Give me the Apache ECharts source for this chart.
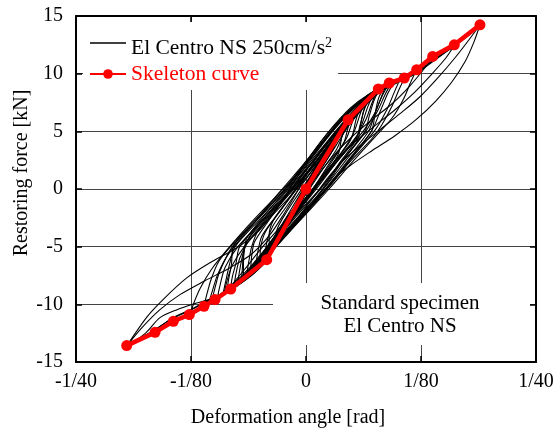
<!DOCTYPE html>
<html><head><meta charset="utf-8">
<script src="https://cdn.jsdelivr.net/npm/echarts@6/dist/echarts.min.js"></script>
<style>html,body{margin:0;padding:0;background:#fff}#c{width:555px;height:430px}</style>
</head><body><div id="c"></div>
<script>
// x values in 1/1000 rad (mrad), y values in kN
const xTickValues = [-25, -12.5, 0, 12.5, 25];
const xTickLabels = ['-1/40', '-1/80', '0', '1/80', '1/40'];
const yTickValues = [-15, -10, -5, 0, 5, 10, 15];

const blackName = 'El Centro NS 250cm/s2';
const redName = 'Skeleton curve';

// skeleton curve
const skeletonX = [-19.49, -16.41, -14.42, -12.68, -11.09, -9.89, -8.18, -4.27, 0, 4.57, 7.86, 9.05, 10.68, 12.03, 13.77, 16.12, 18.91];
const skeletonY = [-13.58, -12.43, -11.47, -10.89, -10.17, -9.59, -8.67, -6.13, 0, 6.0, 8.67, 9.19, 9.62, 10.34, 11.49, 12.5, 14.24];

// response loops (El Centro NS 250cm/s2)
const cycleA = [[-4.78,-6.30],[-2.83,-4.05],[-1.52,-1.97],[-0.65,-0.58],[0.43,0.98],[1.74,2.71],[3.26,4.45],[4.78,6.18],[6.41,7.74],[8.04,8.78],[9.67,9.38],[11.30,9.90],[12.93,10.68],[14.57,11.55],[16.20,12.42],[17.61,13.28],[18.91,14.24],
  [18.26,12.76],[17.28,11.03],[15.87,9.30],[14.13,7.65],[11.96,6.01],[9.67,4.62],[7.17,3.32],[4.78,2.02],[3.15,0.98],[2.07,-0.06],[0.65,-1.36],[-0.87,-2.83],[-2.83,-4.56],[-4.78,-6.13]];
const cycleB = [[-3.70,-5.26],[-2.28,-3.53],[-1.09,-1.97],[0,-0.41],[1.30,1.33],[2.83,3.23],[4.35,5.14],[5.87,6.87],[7.61,8.43],[9.35,9.12],[11.30,9.73],[13.48,10.94],[15.87,12.33],[17.83,13.46],[18.91,14.24],
  [17.72,12.94],[16.20,11.38],[14.35,9.65],[12.39,8.00],[10.22,6.53],[8.04,5.14],[5.87,3.75],[3.91,2.37],[2.39,0.98],[1.09,-0.41],[-0.22,-1.79],[-1.74,-3.35],[-3.70,-5.26]];
const cycleC = [[-3.91,-5.69],[-2.39,-3.70],[-1.09,-1.79],[0.22,0.11],[1.52,2.02],[3.04,3.92],[4.67,5.83],[6.52,7.56],[8.48,8.78],[10.43,9.47],[12.39,10.25],[14.35,11.38],[16.09,12.42],
  [15.22,11.38],[13.70,9.99],[11.85,8.43],[9.67,6.87],[7.50,5.49],[5.33,4.10],[3.48,2.71],[2.07,1.41],[0.65,-0.06],[-0.65,-1.36],[-2.28,-3.0],[-4.13,-4.84]];
const cycleD = [[-3.2,-4.9],[-2.0,-3.0],[-0.8,-1.0],[0.5,1.0],[1.9,3.0],[3.5,4.9],[5.3,6.6],[7.3,8.1],[9.4,9.0],[11.6,9.9],[13.77,11.49],
  [12.93,10.51],[11.30,8.95],[9.35,7.39],[7.17,6.01],[5.0,4.53],[3.26,3.14],[1.74,1.67],[0.43,0.29],[-0.87,-1.19],[-2.39,-2.83],[-3.8,-4.6]];
const cycleE = [[0.65,0.81],[-0.65,-0.93],[-1.96,-2.83],[-3.26,-4.65],[-4.35,-6.30],[-5.87,-7.42],[-7.61,-8.46],[-9.35,-9.24],[-10.98,-9.84],[-12.61,-10.54],[-14.57,-11.24],[-16.41,-12.19],[-18.04,-12.97],[-19.46,-13.58],
  [-17.28,-11.09],[-15.54,-9.59],[-12.93,-7.69],[-10.43,-6.39],[-7.50,-5.09],[-5.33,-3.79],[-3.70,-2.23],[-2.39,-0.75],[-1.30,0.63],[0,2.28],[1.52,4.01],[3.26,5.66],[5.0,7.04],[6.96,8.26]];
const cycleF = [[1.0,1.2],[-0.3,-0.6],[-1.6,-2.5],[-2.9,-4.4],[-4.1,-6.0],[-5.6,-7.3],[-7.3,-8.3],[-9.0,-9.1],[-10.8,-9.7],[-12.4,-10.4],[-14.3,-11.1],[-16.2,-12.1],[-17.9,-12.9],[-19.46,-13.58],
  [-17.5,-12.54],[-15.87,-11.15],[-14.02,-10.46],[-12.07,-9.93],[-10.22,-9.50],[-8.48,-8.90],[-6.85,-7.86],[-5.43,-6.56],[-4.13,-5.0],[-2.83,-3.35],[-1.52,-1.62],[-0.22,0.11],[1.09,1.93],[2.61,3.75],[4.35,5.49]];
const cycleG = [[-19.46,-13.58],[-17.83,-12.02],[-15.87,-10.46],[-13.70,-9.16],[-10.98,-7.95],[-8.26,-6.82],[-5.87,-5.61],[-3.91,-3.96],[-2.39,-2.14],[-1.09,-0.41],[0.22,1.50],[1.74,3.40],[3.48,5.14],[5.2,6.7]];
const loop1 = [[-10.2,-9.6],[-9.9,-8.6],[-9.4,-7.2],[-8.0,-5.0],[-5.1,-2.5],[-2.2,0],[0.3,2.5],[2.8,5.0],[5.2,7.0],[7.4,8.4],[9.6,9.3],
  [8.9,8.3],[8.1,6.8],[7.1,5.0],[4.6,2.5],[2.1,0],[-0.8,-2.5],[-3.7,-5.0],[-5.7,-6.8],[-7.8,-8.3],[-10.2,-9.6]];
const loop2 = [[-9.0,-9.0],[-8.7,-7.9],[-8.3,-6.5],[-7.7,-5.0],[-4.85,-2.5],[-2.0,0],[0.45,2.5],[2.9,5.0],[5.2,7.0],[7.2,8.3],[9.0,9.1],
  [8.3,8.1],[7.6,6.8],[6.8,5.0],[4.35,2.5],[1.9,0],[-0.95,-2.5],[-3.8,-5.0],[-5.6,-6.6],[-7.4,-8.0],[-9.0,-9.0]];
const loop3 = [[-8.2,-8.6],[-8.0,-7.6],[-7.6,-6.4],[-7.2,-5.0],[-4.5,-2.5],[-1.7,0],[0.8,2.5],[3.2,5.0],[5.3,6.9],[6.8,8.0],[8.0,8.6],
  [7.4,7.7],[6.9,6.4],[6.4,5.0],[4.0,2.5],[1.6,0],[-1.2,-2.5],[-3.9,-5.0],[-5.5,-6.5],[-6.9,-7.8],[-8.2,-8.6]];
const loop4 = [[-7.4,-8.0],[-7.2,-7.0],[-6.9,-5.8],[-6.4,-4.5],[-4.0,-2.2],[-1.5,0],[0.9,2.2],[3.4,4.5],[5.3,6.3],[7.2,8.0],
  [6.7,7.1],[6.2,5.9],[5.5,4.5],[3.2,2.2],[1.4,0.3],[-0.9,-2.0],[-3.4,-4.5],[-5.2,-6.2],[-7.4,-8.0]];
const loop5 = [[-6.4,-7.2],[-6.2,-6.2],[-5.9,-5.0],[-5.2,-3.6],[-3.3,-1.8],[-1.2,0.1],[0.9,2.0],[3.0,3.9],[4.7,5.7],[6.2,7.2],
  [5.8,6.3],[5.3,5.1],[4.6,3.9],[2.7,2.0],[0.9,0.1],[-1.1,-1.8],[-2.9,-3.6],[-4.6,-5.4],[-6.4,-7.2]];
const loop6 = [[-5.4,-6.3],[-5.2,-5.3],[-4.8,-4.1],[-3.4,-2.5],[-1.3,-0.3],[0.6,1.8],[2.6,3.8],[4.0,5.3],[5.3,6.4],
  [4.9,5.5],[4.4,4.4],[3.0,2.6],[1.1,0.4],[-0.8,-1.7],[-2.6,-3.6],[-4.0,-5.1],[-5.4,-6.3]];
const loop7 = [[-4.4,-5.4],[-4.2,-4.4],[-3.6,-3.2],[-2.2,-1.6],[-0.5,0.3],[1.2,2.2],[2.8,4.0],[4.3,5.4],
  [3.9,4.5],[3.3,3.4],[1.8,1.7],[0.2,-0.2],[-1.5,-2.1],[-3.0,-3.9],[-4.4,-5.4]];
const loop8 = [[-3.4,-4.4],[-3.1,-3.4],[-2.2,-2.1],[-0.8,-0.4],[0.7,1.4],[2.1,3.1],[3.3,4.3],
  [2.9,3.4],[2.0,2.2],[0.6,0.6],[-0.9,-1.2],[-2.4,-3.0],[-3.4,-4.4]];
const loop9 = [[-11.1,-10.2],[-10.8,-9.2],[-10.3,-7.8],[-9.5,-6.3],[-8.2,-5.0],[-5.3,-2.5],[-2.3,0],[0.3,2.5],[2.7,5.0],[5.0,7.0],[7.4,8.5],[9.0,9.1],[10.7,9.6],
  [10.1,8.6],[9.3,7.1],[8.2,5.5],[7.2,4.4],[4.6,2.2],[2.3,0],[-0.7,-2.5],[-3.6,-5.0],[-5.9,-7.0],[-8.2,-8.6],[-9.8,-9.5],[-11.1,-10.2]];
const loop10 = [[-12.6,-10.9],[-12.2,-9.9],[-11.5,-8.6],[-10.3,-7.0],[-8.5,-5.2],[-5.6,-2.6],[-2.6,-0.1],[0.2,2.4],[2.6,4.8],[4.8,6.8],[7.2,8.4],[9.6,9.4],[12.0,10.3],
  [11.4,9.3],[10.6,7.8],[9.4,6.2],[7.6,4.6],[5.0,2.3],[2.5,0],[-0.5,-2.6],[-3.5,-5.1],[-6.2,-7.3],[-9.0,-9.0],[-11.0,-10.1],[-12.6,-10.9]];
const loop11 = [[-9.6,-9.3],[-9.3,-8.2],[-8.8,-6.8],[-7.4,-5.0],[-4.5,-2.5],[-1.6,0],[0.9,2.5],[3.3,5.0],[5.6,7.0],[7.6,8.5],[9.3,9.2],
  [8.6,8.2],[7.8,6.8],[6.5,5.0],[4.0,2.5],[1.5,0],[-1.4,-2.5],[-4.2,-5.0],[-6.1,-6.8],[-8.0,-8.3],[-9.6,-9.3]];
const loop12 = [[-8.6,-8.8],[-8.4,-7.8],[-8.1,-6.5],[-7.9,-5.0],[-5.1,-2.5],[-2.3,0],[0.1,2.5],[2.5,5.0],[4.8,7.0],[6.8,8.2],[8.5,8.8],
  [7.9,7.9],[7.5,6.5],[7.1,5.0],[4.7,2.5],[2.2,0],[-0.6,-2.5],[-3.5,-5.0],[-5.3,-6.6],[-7.0,-7.9],[-8.6,-8.8]];
const loop13 = [[-7.0,-7.7],[-6.9,-6.7],[-6.8,-5.6],[-6.2,-4.2],[-4.1,-2.1],[-1.9,0],[0.4,2.1],[2.6,4.2],[4.7,6.2],[6.8,7.8],
  [6.3,6.8],[5.9,5.6],[5.4,4.2],[3.5,2.1],[1.8,0],[-0.4,-2.1],[-2.6,-4.2],[-4.8,-6.2],[-7.0,-7.7]];
const loop14 = [[-6.0,-6.8],[-5.9,-5.8],[-5.6,-4.6],[-4.2,-2.9],[-2.3,-0.8],[-0.4,1.2],[1.6,3.2],[3.6,5.1],[5.8,6.9],
  [5.4,5.9],[5.0,4.6],[3.6,2.9],[1.7,0.8],[-0.2,-1.2],[-2.1,-3.1],[-3.9,-5.0],[-6.0,-6.8]];
const loop15 = [[-10.6,-9.9],[-10.2,-8.9],[-9.6,-7.4],[-8.4,-5.6],[-5.7,-3.0],[-2.9,-0.3],[-0.2,2.2],[2.4,4.7],[4.9,6.9],[7.4,8.5],[10.2,9.5],
  [9.6,8.4],[8.8,6.9],[7.5,5.1],[5.3,3.0],[2.6,0.3],[-0.1,-2.2],[-2.9,-4.7],[-5.4,-6.9],[-8.0,-8.7],[-10.6,-9.9]];
const loop16 = [[-5.0,-5.9],[-4.9,-4.9],[-4.4,-3.7],[-2.8,-1.9],[-1.1,0],[0.6,1.9],[2.4,3.8],[3.7,5.1],[4.8,6.0],
  [4.5,5.1],[4.1,4.0],[2.6,2.3],[1.0,0.3],[-0.7,-1.6],[-2.4,-3.5],[-3.8,-4.9],[-5.0,-5.9]];
const loop17 = [[-7.8,-8.3],[-7.6,-7.3],[-7.2,-6.0],[-6.3,-4.6],[-4.0,-2.3],[-1.2,0.2],[1.3,2.6],[3.6,5.0],[5.7,6.9],[7.6,8.3],
  [7.1,7.3],[6.5,6.0],[5.5,4.6],[3.2,2.3],[0.9,0],[-1.5,-2.3],[-3.8,-4.6],[-5.8,-6.8],[-7.8,-8.3]];
const loop18 = [[-6.8,-7.5],[-6.8,-6.5],[-6.7,-5.3],[-6.4,-4.2],[-4.3,-2.1],[-2.1,0],[0.2,2.1],[2.4,4.2],[4.5,6.1],[6.6,7.6],
  [6.2,6.6],[5.9,5.4],[5.6,4.2],[3.7,2.1],[1.9,0],[-0.2,-2.1],[-2.4,-4.2],[-4.6,-6.1],[-6.8,-7.5]];
const loop19 = [[-8.9,-9.1],[-8.6,-8.0],[-8.0,-6.6],[-6.7,-5.0],[-3.9,-2.5],[-1.0,0],[1.6,2.5],[4.1,5.0],[6.2,7.0],[7.8,8.3],[8.7,9.0],
  [8.2,8.0],[7.5,6.6],[6.2,5.0],[3.5,2.5],[0.9,0],[-1.9,-2.5],[-4.7,-5.0],[-6.7,-7.0],[-8.9,-9.1]];
const loop20 = [[-4.0,-5.0],[-4.0,-4.0],[-3.6,-2.8],[-2.3,-1.3],[-0.8,0.4],[0.8,2.1],[2.4,3.8],[4.0,5.1],
  [3.8,4.1],[3.5,3.0],[2.2,1.4],[0.7,-0.3],[-0.9,-2.0],[-2.5,-3.7],[-4.0,-5.0]];

const blackLoops = [cycleA, cycleB, cycleC, cycleD, cycleE, cycleF, cycleG,
  loop1, loop2, loop3, loop4, loop5, loop6, loop7, loop8, loop9, loop10,
  loop11, loop12, loop13, loop14, loop15, loop16, loop17, loop18, loop19, loop20];

const FONT = '"Liberation Serif", "Times New Roman", serif';
const chart = echarts.init(document.getElementById('c'), null, {renderer: 'canvas'});

const series = blackLoops.map(d => ({
  type: 'line', name: blackName, data: d, symbol: 'none', showSymbol: false,
  smooth: 0.3, lineStyle: {color: '#000', width: 1.1}, itemStyle: {color: '#000'},
  silent: true, animation: false, z: 2
}));
series.push({
  type: 'line', name: redName, data: skeletonX.map((x, i) => [x, skeletonY[i]]),
  symbol: 'circle', symbolSize: 11, showSymbol: true,
  lineStyle: {color: '#ff0000', width: 4.5}, itemStyle: {color: '#ff0000'},
  silent: true, animation: false, z: 3
});

const axisCommon = {
  axisLine: {show: true, onZero: false, lineStyle: {color: '#000', width: 2}},
  axisTick: {show: true, inside: true, length: 6, lineStyle: {color: '#000', width: 1.5}},
};

chart.setOption({
  animation: false,
  backgroundColor: '#fff',
  grid: {left: 76, right: 19, top: 16, bottom: 68, containLabel: false, outerBoundsMode: 'none'},
  xAxis: [
    Object.assign({
      type: 'value', position: 'bottom', min: -25, max: 25, interval: 12.5,
      name: 'Deformation angle [rad]', nameLocation: 'middle', nameGap: 46,
      nameTextStyle: {fontFamily: FONT, fontSize: 20, color: '#000', padding: [0, 36, 0, 0]},
      axisLabel: {fontFamily: FONT, fontSize: 20, color: '#000', margin: 10,
        formatter: v => { const i = xTickValues.indexOf(v); return i >= 0 ? xTickLabels[i] : ''; }},
      splitLine: {show: true, lineStyle: {color: '#444', width: 1}}
    }, axisCommon),
    Object.assign({
      type: 'value', position: 'top', min: -25, max: 25, interval: 12.5,
      axisLabel: {show: false}, splitLine: {show: false}
    }, axisCommon)
  ],
  yAxis: [
    Object.assign({
      type: 'value', position: 'left', min: -15, max: 15, interval: 5,
      name: 'Restoring force [kN]', nameLocation: 'middle', nameGap: 44, nameMoveOverlap: false,
      nameTextStyle: {fontFamily: FONT, fontSize: 20, color: '#000', padding: [0, 0, 0, 32]},
      axisLabel: {fontFamily: FONT, fontSize: 20, color: '#000', margin: 13},
      splitLine: {show: true, lineStyle: {color: '#444', width: 1}}
    }, axisCommon),
    Object.assign({
      type: 'value', position: 'right', min: -15, max: 15, interval: 5,
      axisLabel: {show: false}, splitLine: {show: false}
    }, axisCommon)
  ],
  legend: {
    left: 83, top: 22, orient: 'vertical', padding: [5, 6, 5, 6], itemGap: 4,
    itemWidth: 36, itemHeight: 12, backgroundColor: '#fff', z: 10,
    data: [
      {name: blackName, icon: 'path://M0,0H36V1.4H0Z', itemStyle: {color: '#000'}, textStyle: {color: '#000'}},
      {name: redName, textStyle: {color: '#ff0000'}}
    ],
    formatter: name => name === blackName ? '{main|El Centro NS 250cm/s}{sup|2}' : name,
    textStyle: {fontFamily: FONT, fontSize: 21.5, lineHeight: 20,
      rich: {
        main: {fontFamily: FONT, fontSize: 21.5, lineHeight: 20, verticalAlign: 'bottom', color: '#000'},
        sup: {fontFamily: FONT, fontSize: 14, lineHeight: 32, verticalAlign: 'middle', color: '#000'}
      }},
    selectedMode: false
  },
  graphic: [
    {type: 'rect', shape: {x: 273, y: 283, width: 257, height: 62}, style: {fill: '#fff'}, z: 50, silent: true},
    {type: 'text', x: 400, y: 315, z: 51, silent: true,
      style: {text: 'Standard specimen\nEl Centro NS', fontFamily: FONT, fontSize: 21, fill: '#000',
        align: 'center', verticalAlign: 'middle', lineHeight: 23}}
  ],
  series: series
});
</script>
</body></html>
